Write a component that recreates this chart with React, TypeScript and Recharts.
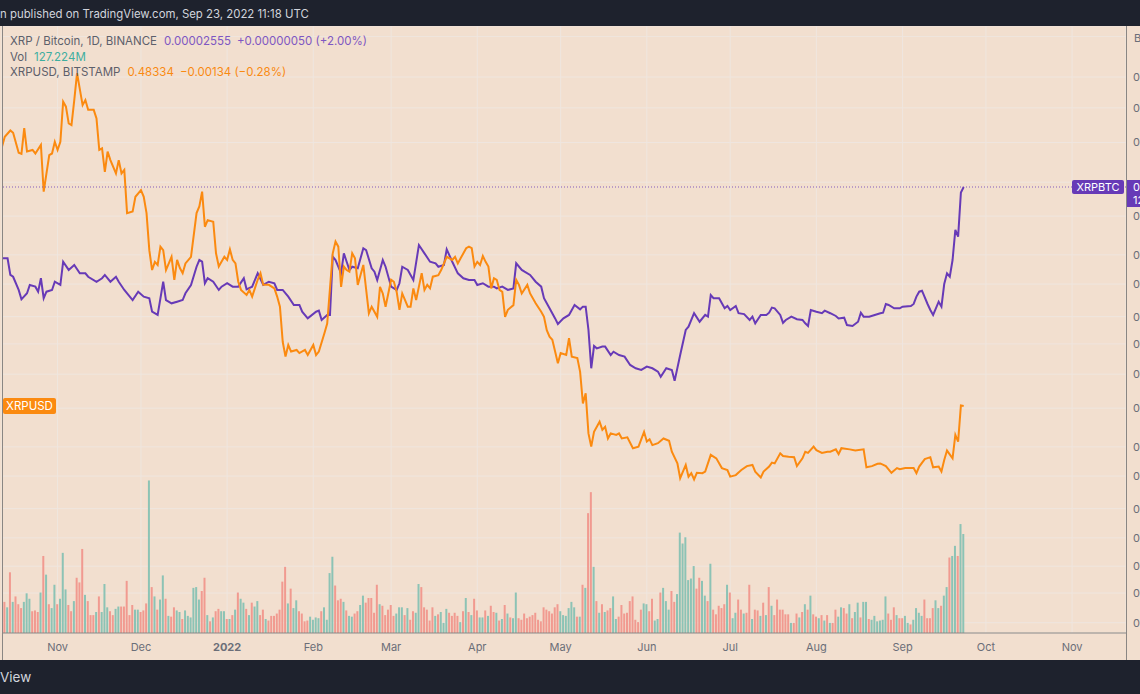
import React from 'react';
import {
  ComposedChart,
  Line,
  Bar,
  XAxis,
  YAxis,
  CartesianGrid,
  ReferenceLine,
  Cell,
} from 'recharts';

const FONT = "Inter, 'Noto Sans', sans-serif";
const BG = '#f2dfcf';
const GRID = '#efe6df';
const DARK = '#1e222d';
const PURPLE = '#673ab7';
const ORANGE = '#fb8a10';
const UP = '#8cc3b5';
const DOWN = '#f19a90';
const AXIS_TEXT = '#6b6e78';
const BORDER = '#8a8683';

// day 0 = 12 Oct 2021, one row per daily bar
const START = Date.UTC(2021, 9, 12);

const monthStarts = [
  '2021-11-01', '2021-12-01', '2022-01-01', '2022-02-01', '2022-03-01', '2022-04-01', '2022-05-01',
  '2022-06-01', '2022-07-01', '2022-08-01', '2022-09-01', '2022-10-01', '2022-11-01',
];
const monthLabels = ['Nov', 'Dec', '2022', 'Feb', 'Mar', 'Apr', 'May', 'Jun', 'Jul', 'Aug', 'Sep', 'Oct', 'Nov'];

// XRP/BTC in 1e-8 BTC, log price scale
const btcTicks = [530, 590, 650, 720, 800, 900, 1000, 1150, 1300, 1450, 1600, 1800, 2000, 2300, 2600, 3000, 3400, 3800, 4400];

// [day, close] XRP / Bitcoin (1e-8 BTC)
const xrpbtc: [number, number][] = [
  [0, 1975], [2, 1975], [3, 1860], [4, 1848], [6, 1762], [7, 1703], [9, 1741], [10, 1794], [12, 1783], [13, 1751],
  [14, 1838], [15, 1710], [16, 1751], [18, 1762], [19, 1815], [21, 1794], [22, 1951], [24, 1894], [26, 1928], [28, 1871],
  [30, 1871], [31, 1848], [34, 1815], [36, 1838], [37, 1860], [39, 1815], [41, 1848], [42, 1815], [44, 1762], [47, 1699],
  [49, 1751], [51, 1720], [53, 1710], [54, 1629], [56, 1610], [58, 1815], [59, 1699], [61, 1679], [63, 1689], [65, 1699],
  [66, 1741], [68, 1794], [70, 1916], [71, 1963], [72, 1951], [73, 1805], [74, 1838], [76, 1815], [78, 1762], [79, 1783],
  [81, 1805], [83, 1783], [85, 1783], [87, 1838], [88, 1766], [90, 1783], [92, 1871], [94, 1794], [96, 1815], [98, 1805],
  [99, 1762], [101, 1762], [103, 1720], [105, 1669], [107, 1669], [108, 1629], [110, 1590], [113, 1629], [114, 1635], [115, 1581],
  [117, 1610], [118, 1610], [119, 1987], [120, 1963], [122, 1871], [123, 2011], [124, 1951], [125, 1894], [126, 1916], [128, 1905],
  [130, 2048], [131, 2035], [133, 1905], [134, 1882], [135, 1826], [137, 1963], [138, 1916], [140, 1783], [142, 1762], [143, 1805],
  [144, 1916], [146, 1894], [148, 1826], [150, 2072], [152, 2011], [154, 1951], [156, 1940], [157, 1916], [159, 1928], [160, 2040],
  [162, 1951], [164, 1871], [166, 1838], [168, 1826], [170, 1826], [171, 1794], [173, 1805], [175, 1783], [177, 1783], [178, 1772],
  [180, 1783], [182, 1762], [184, 1772], [185, 1940], [187, 1894], [188, 1882], [190, 1860], [192, 1815], [194, 1783], [195, 1710],
  [197, 1649], [199, 1590], [200, 1558], [202, 1590], [204, 1610], [205, 1639], [206, 1669], [208, 1643], [209, 1659], [210, 1659],
  [211, 1525], [212, 1328], [213, 1439], [214, 1427], [216, 1436], [217, 1436], [219, 1393], [220, 1410], [222, 1393], [224, 1385],
  [226, 1344], [228, 1328], [230, 1320], [232, 1336], [234, 1328], [236, 1312], [237, 1288], [239, 1328], [241, 1320], [242, 1269],
  [244, 1393], [246, 1525], [247, 1543], [249, 1620], [251, 1571], [253, 1610], [254, 1600], [255, 1730], [256, 1710], [258, 1710],
  [260, 1649], [261, 1663], [262, 1639], [264, 1663], [265, 1620], [267, 1615], [269, 1581], [270, 1600], [271, 1562], [273, 1610],
  [275, 1610], [276, 1623], [277, 1653], [278, 1649], [280, 1610], [281, 1565], [282, 1581], [284, 1600], [286, 1585], [288, 1581],
  [289, 1562], [290, 1547], [291, 1639], [293, 1629], [295, 1620], [296, 1635], [298, 1620], [300, 1604], [301, 1590], [303, 1594],
  [304, 1552], [306, 1547], [308, 1571], [309, 1623], [310, 1600], [312, 1600], [314, 1610], [316, 1620], [317, 1623], [318, 1675],
  [319, 1669], [321, 1649], [323, 1649], [324, 1659], [327, 1663], [328, 1675], [329, 1720], [330, 1751], [331, 1757], [333, 1675],
  [334, 1639], [335, 1610], [336, 1649], [337, 1689], [338, 1659], [339, 1800], [340, 1871], [341, 1848], [342, 1963], [343, 2188],
  [344, 2136], [345, 2505], [346, 2555],
];

// [day, close] XRPUSD, BITSTAMP
const xrpusd: [number, number][] = [
  [0, 1.148], [1, 1.174], [3, 1.19], [4, 1.184], [6, 1.133], [7, 1.13], [8, 1.196], [9, 1.136], [11, 1.14], [12, 1.131],
  [14, 1.153], [15, 1.033], [17, 1.127], [18, 1.131], [19, 1.161], [20, 1.14], [21, 1.161], [22, 1.264], [23, 1.251], [24, 1.208],
  [25, 1.204], [26, 1.268], [27, 1.337], [29, 1.255], [30, 1.268], [31, 1.243], [33, 1.243], [34, 1.221], [35, 1.14], [36, 1.144],
  [37, 1.084], [38, 1.136], [39, 1.114], [41, 1.08], [42, 1.114], [43, 1.08], [44, 1.089], [45, 0.978], [47, 0.982], [48, 1.02],
  [50, 1.037], [51, 1.02], [52, 0.978], [53, 0.883], [54, 0.832], [55, 0.853], [56, 0.845], [57, 0.892], [58, 0.883], [59, 0.832],
  [61, 0.866], [62, 0.807], [63, 0.858], [64, 0.837], [65, 0.824], [66, 0.849], [68, 0.866], [70, 0.978], [71, 0.995], [72, 1.033],
  [73, 0.943], [74, 0.96], [76, 0.956], [77, 0.875], [78, 0.841], [80, 0.866], [81, 0.858], [82, 0.885], [83, 0.858], [84, 0.849],
  [85, 0.802], [86, 0.781], [88, 0.768], [89, 0.781], [90, 0.764], [92, 0.807], [93, 0.824], [94, 0.794], [96, 0.794], [98, 0.785],
  [99, 0.764], [100, 0.738], [101, 0.648], [102, 0.61], [103, 0.64], [104, 0.623], [106, 0.627], [107, 0.619], [109, 0.627], [110, 0.614],
  [112, 0.64], [113, 0.614], [114, 0.623], [116, 0.67], [117, 0.695], [119, 0.875], [120, 0.905], [121, 0.892], [122, 0.789], [123, 0.841],
  [124, 0.832], [125, 0.828], [126, 0.875], [127, 0.862], [128, 0.794], [130, 0.845], [132, 0.721], [133, 0.738], [135, 0.712], [136, 0.789],
  [137, 0.772], [138, 0.738], [140, 0.807], [141, 0.802], [142, 0.776], [143, 0.73], [144, 0.772], [146, 0.738], [147, 0.738], [148, 0.785],
  [149, 0.755], [151, 0.824], [152, 0.781], [153, 0.794], [154, 0.785], [155, 0.815], [157, 0.819], [158, 0.832], [160, 0.866], [162, 0.858],
  [163, 0.866], [164, 0.849], [165, 0.862], [167, 0.888], [168, 0.892], [169, 0.888], [170, 0.841], [171, 0.853], [172, 0.845], [173, 0.868],
  [174, 0.853], [175, 0.841], [176, 0.785], [177, 0.811], [178, 0.807], [179, 0.781], [180, 0.776], [181, 0.712], [182, 0.73], [184, 0.742],
  [185, 0.807], [186, 0.794], [187, 0.772], [189, 0.794], [190, 0.772], [192, 0.747], [194, 0.725], [195, 0.712], [196, 0.678], [197, 0.661],
  [198, 0.653], [199, 0.623], [200, 0.593], [201, 0.619], [203, 0.614], [204, 0.657], [205, 0.61], [207, 0.606], [208, 0.571], [209, 0.49],
  [210, 0.516], [211, 0.413], [212, 0.379], [213, 0.417], [215, 0.443], [216, 0.422], [217, 0.43], [218, 0.4], [219, 0.413], [221, 0.409],
  [222, 0.413], [223, 0.4], [225, 0.403], [227, 0.375], [229, 0.379], [231, 0.417], [232, 0.392], [233, 0.398], [234, 0.383], [236, 0.388],
  [238, 0.4], [240, 0.394], [241, 0.366], [243, 0.336], [244, 0.298], [246, 0.332], [247, 0.302], [248, 0.311], [249, 0.295], [250, 0.312],
  [252, 0.311], [253, 0.315], [255, 0.358], [257, 0.349], [259, 0.324], [261, 0.319], [262, 0.302], [264, 0.306], [266, 0.319], [268, 0.329],
  [270, 0.332], [271, 0.315], [273, 0.3], [274, 0.315], [276, 0.328], [277, 0.338], [278, 0.336], [280, 0.362], [281, 0.355], [283, 0.353],
  [285, 0.352], [286, 0.329], [288, 0.349], [289, 0.366], [290, 0.363], [292, 0.379], [293, 0.37], [295, 0.363], [297, 0.366], [298, 0.366],
  [300, 0.372], [301, 0.36], [302, 0.375], [305, 0.372], [307, 0.369], [310, 0.372], [311, 0.326], [313, 0.329], [315, 0.335], [316, 0.336],
  [318, 0.329], [320, 0.312], [322, 0.324], [323, 0.321], [325, 0.324], [328, 0.324], [329, 0.311], [330, 0.328], [332, 0.347], [334, 0.352],
  [335, 0.326], [337, 0.328], [338, 0.315], [339, 0.345], [340, 0.369], [342, 0.349], [343, 0.409], [344, 0.392], [345, 0.4847], [346, 0.4833],
];

// daily volume (millions), one per day from day 0
const volume = [
  52, 40, 33, 78, 40, 47, 37, 32, 40, 51, 44, 28, 29, 27, 52, 99, 75, 37, 32, 62,
  37, 44, 103, 56, 36, 28, 41, 71, 65, 108, 49, 41, 23, 23, 27, 47, 27, 63, 33, 28,
  23, 31, 34, 34, 34, 67, 23, 36, 30, 30, 27, 29, 38, 196, 59, 47, 30, 43, 74, 44,
  22, 21, 33, 29, 27, 18, 29, 22, 20, 58, 59, 43, 54, 71, 23, 15, 20, 28, 31, 28,
  28, 18, 18, 23, 30, 52, 44, 39, 31, 23, 39, 34, 41, 23, 30, 18, 16, 22, 22, 25,
  30, 66, 85, 38, 57, 32, 42, 28, 25, 15, 16, 21, 17, 20, 19, 28, 33, 17, 77, 98,
  61, 42, 44, 40, 29, 22, 21, 25, 28, 36, 48, 39, 45, 45, 26, 62, 37, 35, 23, 30,
  36, 22, 25, 33, 33, 23, 32, 17, 28, 26, 63, 59, 33, 30, 16, 33, 22, 24, 27, 13,
  31, 26, 22, 26, 22, 14, 28, 45, 27, 23, 44, 29, 20, 20, 29, 22, 35, 27, 26,
  16, 18, 36, 25, 20, 19, 52, 19, 17, 25, 19, 21, 23, 26, 17, 15, 33, 30, 28, 25,
  33, 37, 28, 23, 22, 32, 40, 33, 21, 21, 62, 58, 154, 181, 85, 41, 26, 37, 27, 29,
  32, 47, 18, 21, 36, 25, 26, 41, 47, 17, 14, 30, 38, 37, 28, 44, 16, 18, 52, 58,
  41, 30, 54, 40, 50, 129, 115, 123, 68, 70, 86, 57, 71, 67, 48, 41, 89, 30, 24, 35,
  32, 37, 62, 52, 19, 26, 43, 30, 25, 26, 62, 18, 30, 29, 22, 39, 23, 59, 35, 23,
  43, 30, 30, 24, 24, 13, 13, 25, 20, 27, 37, 30, 48, 24, 21, 19, 23, 16, 23, 13,
  13, 30, 21, 33, 32, 25, 37, 19, 27, 39, 20, 40, 40, 18, 17, 22, 15, 16, 17, 47,
  25, 17, 33, 23, 19, 19, 22, 13, 11, 17, 32, 26, 22, 43, 19, 19, 32, 42, 32, 35,
  48, 59, 97, 99, 112, 99, 140, 127.224,
];

// u = up day (green), d = down day (red)
const volumeSide = (
  'ddududdduu' + 'udddududuu' + 'duuudduddd' + 'uddduduuud' + 'duuddddduu' +
  'dddududuud' + 'udduuduuuu' + 'uuddududdu' + 'udududuudu' + 'duuddudddd' +
  'ddduduuddd' + 'duuuuduuuu' + 'ddduduuddu' + 'uddddduddd' + 'dduuududdu' +
  'uddddduduu' + 'uddddududu' + 'dduududdu' +
  'dududuuddd' + 'dddddddddd' + 'dduuuuuudu' + 'duddududud' + 'duuddddddd' +
  'dduudduudu' + 'uudduuuuuu' + 'udduududdd' + 'dduduuddud' + 'duddududud' +
  'ddddduddud' + 'ududdududu' + 'dduudduduu' + 'duuduuuuuu' + 'dddudduudu' +
  'uuudddduud' + 'uuduuduu'
).split('');

const DAY = 86400000;
const tickDays = monthStarts.map((s) => Math.round((Date.parse(s) - START) / DAY));

const rows: any[] = volume.map((v, i) => ({ day: i, vol: v, up: volumeSide[i] === 'u' }));
xrpbtc.forEach(([d, v]) => { rows[d].btc = v; });
xrpusd.forEach(([d, v]) => { rows[d].usd = v; });

const lastBtc = xrpbtc[xrpbtc.length - 1][1];
const lastUsd = xrpusd[xrpusd.length - 1][1];

const TimeTick = (props: any) => {
  const { x, y, payload } = props;
  const label = monthLabels[tickDays.indexOf(payload.value)];
  return (
    <text x={x} y={y + 18} textAnchor="middle" fontSize={11} fontFamily={FONT}
      fontWeight={label === '2022' ? 700 : 400} fill={AXIS_TEXT}>
      {label}
    </text>
  );
};

const PriceTick = (props: any) => {
  const { x, y, payload } = props;
  // labels under the unit caption and the last-price box are hidden, as on the scale
  if (y < 45 || Math.abs(y - 187 + 26) < 14) return null;
  return (
    <text x={x + 7} y={y} dy="0.35em" fontSize={11} fontFamily={FONT} fill={AXIS_TEXT}>
      {(payload.value / 1e8).toFixed(8)}
    </text>
  );
};

const BtcLabel = (props: any) => {
  const vb = props.viewBox || {};
  const right = vb.x + vb.width;
  const y = vb.y;
  return (
    <g>
      <rect x={right - 54} y={y - 7} width={52} height={14} rx={2} fill={PURPLE} />
      <text x={right - 28} y={y} dy="0.35em" textAnchor="middle" fontSize={11} fontFamily={FONT} fill="#fff">XRPBTC</text>
      <rect x={right} y={y - 7} width={40} height={27} fill={PURPLE} />
      <text x={right + 7} y={y} dy="0.35em" fontSize={11} fontFamily={FONT} fill="#fff">{(lastBtc / 1e8).toFixed(8)}</text>
      <text x={right + 7} y={y + 13} dy="0.35em" fontSize={11} fontFamily={FONT} fill="#fff">12:41:52</text>
    </g>
  );
};

const UsdLabel = (props: any) => {
  const vb = props.viewBox || {};
  return (
    <g>
      <rect x={vb.x + 1} y={vb.y - 8} width={53} height={16} rx={2} fill={ORANGE} />
      <text x={vb.x + 27.5} y={vb.y} dy="0.35em" textAnchor="middle" fontSize={11.5} fontFamily={FONT} fill="#fff">XRPUSD</text>
    </g>
  );
};

const legendRow = (top: number): React.CSSProperties => ({
  position: 'absolute', left: 10, top, height: 15, lineHeight: '15px', display: 'flex', gap: 7,
  fontSize: 11.5, whiteSpace: 'nowrap', color: '#5d606b',
});

export default function App() {
  return (
    <div style={{ position: 'fixed', left: 0, top: 0, width: 1140, height: 694, overflow: 'hidden', background: DARK, fontFamily: FONT }}>
      <div style={{ position: 'absolute', left: 0, top: 0, height: 26, lineHeight: '28px', fontSize: 11.4, color: '#d1d4dc', whiteSpace: 'nowrap' }}>
        n published on TradingView.com, Sep 23, 2022 11:18 UTC
      </div>

      <div style={{ position: 'absolute', left: 0, top: 26, width: 1140, height: 634, background: BG }}>
        <ComposedChart width={1140} height={634} data={rows} margin={{ top: 0, right: 0, bottom: 0, left: 2 }}>
          <CartesianGrid yAxisId="btc" stroke={GRID} strokeWidth={1} />
          <XAxis dataKey="day" type="number" domain={[0, 404.4]} allowDataOverflow ticks={tickDays} interval={0}
            height={27} tickSize={0} tickMargin={0} tickLine={false} axisLine={{ stroke: BORDER }} tick={<TimeTick />} />
          <YAxis yAxisId="btc" orientation="right" scale="log" domain={[510.7, 4569]} allowDataOverflow ticks={btcTicks}
            interval={0} width={14} tickSize={0} tickMargin={0} tickLine={false} axisLine={false} tick={<PriceTick />} />
          <YAxis yAxisId="usd" hide domain={[-0.099, 1.458]} allowDataOverflow />
          <YAxis yAxisId="vol" hide domain={[0, 780]} allowDataOverflow />
          <Bar yAxisId="vol" dataKey="vol" barSize={2} isAnimationActive={false}>
            {rows.map((r, i) => <Cell key={i} fill={r.up ? UP : DOWN} />)}
          </Bar>
          <Line yAxisId="btc" dataKey="btc" type="linear" stroke={PURPLE} strokeWidth={2} dot={false} activeDot={false}
            connectNulls isAnimationActive={false} />
          <Line yAxisId="usd" dataKey="usd" type="linear" stroke={ORANGE} strokeWidth={2} dot={false} activeDot={false}
            connectNulls isAnimationActive={false} />
          <ReferenceLine yAxisId="btc" y={lastBtc} stroke={PURPLE} strokeOpacity={0.8} strokeDasharray="1 2" label={<BtcLabel />} />
          <ReferenceLine yAxisId="usd" y={lastUsd} stroke="none" label={<UsdLabel />} />
        </ComposedChart>
      </div>

      <div style={legendRow(34)}>
        <span>XRP / Bitcoin, 1D, BINANCE</span>
        <span style={{ color: '#7e57c2' }}>0.00002555</span>
        <span style={{ color: '#7e57c2', marginLeft: -1 }}>+0.00000050 (+2.00%)</span>
      </div>
      <div style={legendRow(50)}>
        <span>Vol</span>
        <span style={{ color: '#3fae9f' }}>127.224M</span>
      </div>
      <div style={legendRow(65)}>
        <span>XRPUSD, BITSTAMP</span>
        <span style={{ color: '#f98a12' }}>0.48334</span>
        <span style={{ color: '#f98a12', marginLeft: -1 }}>−0.00134 (−0.28%)</span>
      </div>

      <div style={{ position: 'absolute', left: 1134, top: 31, fontSize: 11, color: AXIS_TEXT }}>BTC</div>

      <div style={{ position: 'absolute', left: 2, top: 26, width: 1, height: 634, background: BORDER }} />
      <div style={{ position: 'absolute', left: 1126, top: 26, width: 1, height: 634, background: BORDER }} />

      <div style={{ position: 'absolute', left: 0, top: 660, height: 34, lineHeight: '34px', fontSize: 13.5, color: '#d1d4dc' }}>
        View
      </div>
    </div>
  );
}
